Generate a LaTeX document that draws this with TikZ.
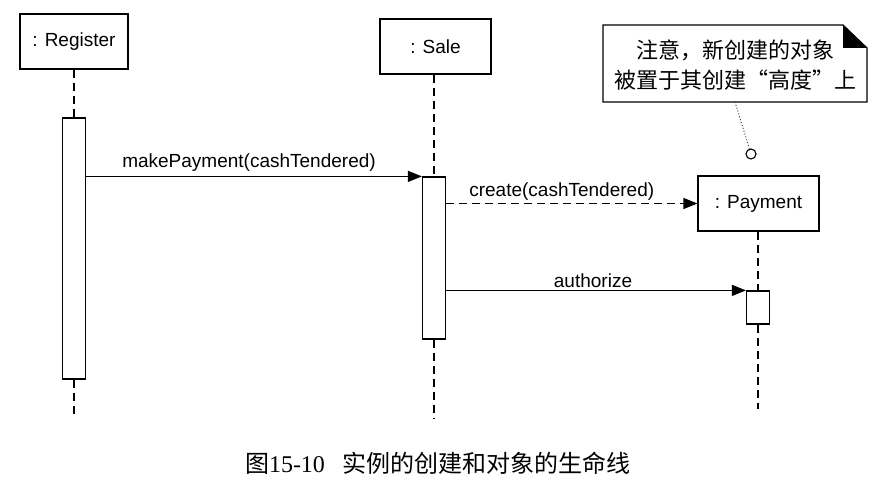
\documentclass[tikz,border=0pt]{standalone}
\usepackage{fontspec}
\setmainfont{Liberation Sans}
\newfontfamily\cjk{Noto Sans CJK SC}
\newfontfamily\capserif{Liberation Serif}
\usetikzlibrary{arrows.meta}
\begin{document}
\begin{tikzpicture}[x=1pt,y=-1pt,
  lw/.style={line width=1.2pt},
  obj/.style={lw,draw,rectangle,minimum height=55pt,inner sep=0pt,font=\fontsize{19}{23}\selectfont},
  actbox/.style={lw,draw,fill=white,rectangle,minimum width=23pt,inner sep=0pt},
  life/.style={lw,dash pattern=on 8pt off 5pt},
  msg/.style={lw,-{Triangle[length=14pt,width=11pt]}},
  lbl/.style={font=\fontsize{19}{23}\selectfont,inner sep=1pt}]
\useasboundingbox (0,0) rectangle (875,486);
% objects
\node[obj,minimum width=108pt] (reg) at (74,41.5) {: Register};
\node[obj,minimum width=111pt] (sale) at (435.5,46.5) {: Sale};
\node[obj,minimum width=121pt] (pay) at (758.5,203.5) {: Payment};
% activations
\node[actbox,minimum height=261pt] (regact) at (74,248.5) {};
\node[actbox,minimum height=162pt] (saleact) at (434,258) {};
\node[actbox,minimum height=33pt] (payact) at (758,307.5) {};
% lifeline ends
\coordinate (regend) at (74,414);
\coordinate (saleend) at (434,419);
\coordinate (payend) at (758,409);
\draw[life] (reg.south) -- (regact.north);
\draw[life] (regact.south) -- (regend);
\draw[life] (sale.south -| saleact.north) -- (saleact.north);
\draw[life] (saleact.south) -- (saleend);
\draw[life] (pay.south -| payact.north) -- (payact.north);
\draw[life] (payact.south) -- (payend);
% messages
\draw[msg] (regact.east |- saleact.north) -- node[lbl,above=3pt,xshift=-5pt] {makePayment(cashTendered)} (saleact.north west);
\draw[msg,dash pattern=on 8pt off 5pt] (saleact.east |- pay.west) -- node[lbl,above=1pt,xshift=-10pt] {create(cashTendered)} (pay.west);
\draw[msg] (saleact.east |- payact.north) -- node[lbl,above=1pt,xshift=-3pt] {authorize} (payact.north west);
% note
\node[font=\cjk\fontsize{22}{30}\selectfont,align=center,inner sep=0pt] (notetext) at (735,65) {注意，新创建的对象\\被置于其创建“高度”上};
\draw[lw] (603,25) -- (843,25) -- (867,48) -- (867,102) -- (603,102) -- cycle;
\fill (843,25) -- (843,48) -- (867,48) -- cycle;
\coordinate (nb) at (735,102);
\node[circle,draw,line width=1.1pt,minimum size=10pt,inner sep=0pt] (pin) at (751,154) {};
\draw[line width=1pt,dotted,black!75] (nb) -- (pin);
% caption
\node[inner sep=0pt] (cap) at (438,463) {\cjk\fontsize{24}{28}\selectfont 图{\capserif 15-10}\hspace{18pt}实例的创建和对象的生命线};
\end{tikzpicture}
\end{document}
